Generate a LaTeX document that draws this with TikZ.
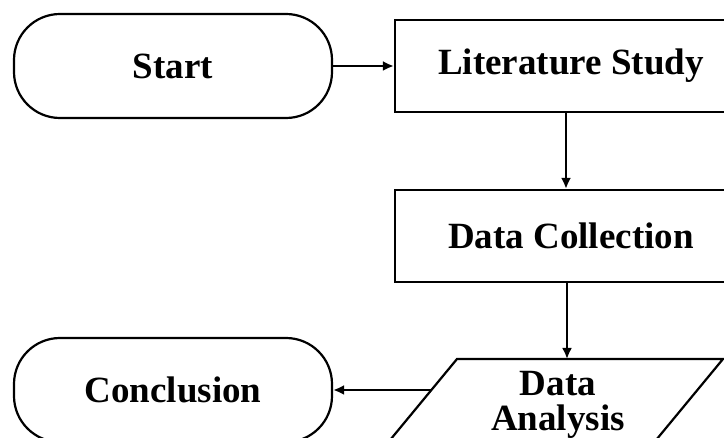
\documentclass[tikz,border=0pt]{standalone}
\usepackage{fontspec}
\setmainfont{Liberation Serif}
\usetikzlibrary{arrows.meta}
\begin{document}
\begin{tikzpicture}[x=1pt,y=-1pt,
  txt/.style={font=\fontsize{37}{35}\selectfont\bfseries},
  term/.style={draw, line width=2.2pt, rounded corners=46pt, minimum width=318pt, minimum height=104pt, inner sep=0pt, txt},
  procbox/.style={draw, line width=2.2pt, minimum width=352pt, minimum height=92pt, inner sep=0pt, txt},
  shapeline/.style={draw, line width=2.2pt},
  lbl/.style={align=center, inner sep=0pt, txt},
  conn/.style={line width=2.2pt, -{Latex[length=11pt,width=10pt]}}]
\useasboundingbox (0,0) rectangle (724,438);
\clip (0,0) rectangle (724,438);
\node[term] (start) at (173,66) {Start};
\node[procbox] (lit) at (571,66) {Literature Study};
\node[procbox] (col) at (571,236) {Data Collection};
\coordinate (tl) at (457,359);
\coordinate (tr) at (723,359);
\coordinate (br) at (647,451);
\coordinate (bl) at (381,451);
\draw[shapeline] (tl) -- (tr) -- (br) -- (bl) -- cycle;
\node[lbl] (ana) at (558,405) {Data\\Analysis};
\node[term] (conc) at (173,390) {Conclusion};
\coordinate (anaT) at (567,359);
\coordinate (anaL) at (431.5,390);
\draw[conn] (start) -- (lit);
\draw[conn] ([xshift=-5pt]lit.south) -- ([xshift=-5pt]col.north);
\draw[conn] ([xshift=-4pt]col.south) -- (anaT);
\draw[conn] (anaL) -- (conc);
\end{tikzpicture}
\end{document}
